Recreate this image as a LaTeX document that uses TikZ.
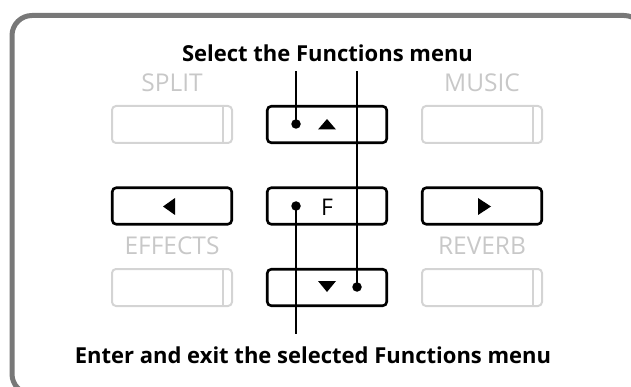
\documentclass[tikz,border=0pt]{standalone}
\usepackage{fontspec}
\setmainfont{Open Sans}
\definecolor{framegray}{HTML}{787878}
\definecolor{btngray}{HTML}{D4D4D4}
\definecolor{txtgray}{HTML}{C8C8C8}
\begin{document}
\begin{tikzpicture}[x=1pt,y=-1pt,
  btn/.style={draw=black,line width=2.6pt,rounded corners=4pt,minimum width=119.5pt,minimum height=36.5pt,inner sep=0pt},
  gbtn/.style={draw=btngray,line width=2pt,rounded corners=4pt,minimum width=120pt,minimum height=37pt,inner sep=0pt},
  gdiv/.style={draw=btngray,line width=2pt},
  glabel/.style={text=txtgray,anchor=base,font=\fontsize{24.5}{28}\selectfont,inner sep=0pt},
  title/.style={anchor=base,font=\bfseries\fontsize{22}{26}\selectfont,inner sep=0pt},
  dot/.style={circle,fill=black,inner sep=0pt,minimum size=9.5pt},
  lead/.style={line width=1.3pt},
  tri/.style={fill=black}]
\useasboundingbox (0,0) rectangle (631,387);
\clip (0,0) rectangle (631,387);
\draw[framegray,line width=5pt,rounded corners=20pt] (12,15.5) rectangle (644,394);

% gray buttons
\node[gbtn] (split) at (172,124.5) {};
\node[gbtn] (music) at (482,124.5) {};
\node[gbtn] (effects) at (172,287.5) {};
\node[gbtn] (reverb) at (482,287.5) {};
\foreach \b in {split,music,effects,reverb}{
  \draw[gdiv] ([xshift=-10pt]\b.north east) -- ([xshift=-10pt]\b.south east);
}
\node[glabel] (splitl) at (172,92) {SPLIT};
\node[glabel] (musicl) at (482,92) {MUSIC};
\node[glabel] (effectsl) at (172,254.5) {EFFECTS};
\node[glabel] (reverbl) at (482,254.5) {REVERB};

% black buttons
\node[btn] (up) at (327,124.5) {};
\node[btn] (left) at (172,206) {};
\node[btn] (fbtn) at (327,206) {};
\node[btn] (right) at (482,206) {};
\node[btn] (down) at (327,287.5) {};

\node[anchor=base,font=\fontsize{23}{26}\selectfont,inner sep=0pt] (flabel) at (327,215.5) {F};

% triangles
\fill[tri] (318,129.5) -- (336,129.5) -- (327,119) -- cycle;
\fill[tri] (318,281) -- (336,281) -- (327,292) -- cycle;
\fill[tri] (163,206.5) -- (175,198) -- (175,215) -- cycle;
\fill[tri] (491,206.5) -- (478,198) -- (478,215) -- cycle;

% texts
\node[title] (top) at (327.5,61.5) {Select the Functions menu};
\node[title] (bottom) at (313,363) {Enter and exit the selected Functions menu};

% dots and leaders
\node[dot] (updot) at (296,124) {};
\node[dot] (fdot) at (296,206) {};
\node[dot] (downdot) at (357,287) {};
\coordinate (ta) at (296,71);
\coordinate (tb) at (357,71);
\coordinate (ba) at (296,334);
\draw[lead] (updot.center) -- (ta);
\draw[lead] (downdot.center) -- (tb);
\draw[lead] (fdot.center) -- (ba);
\end{tikzpicture}
\end{document}
